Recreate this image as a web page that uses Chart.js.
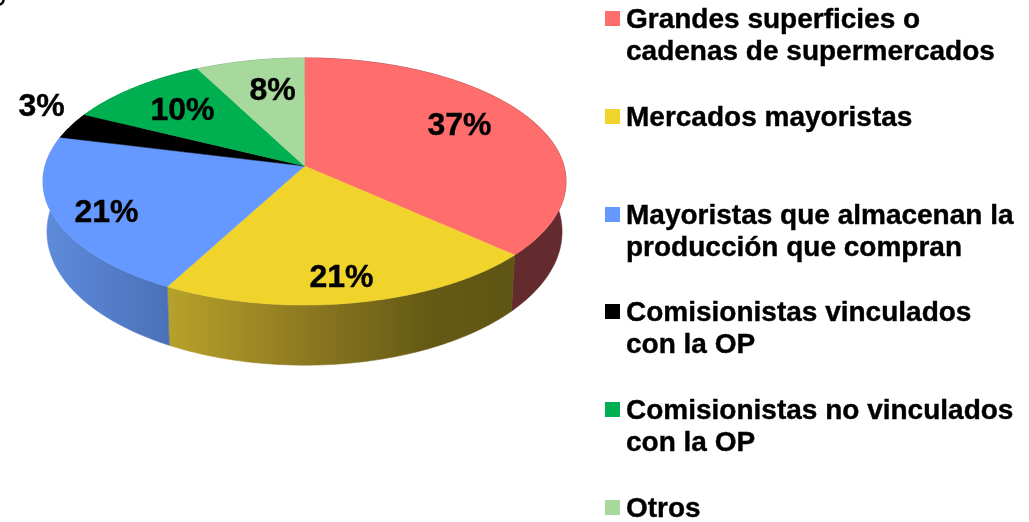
<!DOCTYPE html>
<html>
<head>
<meta charset="utf-8">
<style>html,body{margin:0;padding:0;background:#fff;overflow:hidden}#wrap{position:relative;width:1029px;height:522px}</style>
<script src="https://cdn.jsdelivr.net/npm/chart.js@4"></script>
</head>
<body>
<div id="wrap"><canvas id="c" width="1029" height="522"></canvas></div>
<script>
const categories = ['Grandes superficies o cadenas de supermercados','Mercados mayoristas','Mayoristas que almacenan la producción que compran','Comisionistas vinculados con la OP','Comisionistas no vinculados con la OP','Otros'];
const legendLines = [['Grandes superficies o','cadenas de supermercados'],['Mercados mayoristas'],['Mayoristas que almacenan la','producción que compran'],['Comisionistas vinculados','con la OP'],['Comisionistas no vinculados','con la OP'],['Otros']];
const values = [36.7,21.1,21.1,3.45,10.05,7.6];
const topColors = ['#ff6d6d','#f0d42c','#6699ff','#000000','#00b050','#a6d99b'];
const wallStops = [
  [[0,'#642b2e'],[1,'#642b2e']],
  [[0,'#b8a22c'],[0.45,'#87741f'],[0.75,'#655a14'],[1,'#5f5514']],
  [[0,'#5f8bdc'],[1,'#4a71b8']],
  [[0,'#000000'],[1,'#000000']],
  [[0,'#006c30'],[1,'#006c30']],
  [[0,'#6b8c63'],[1,'#6b8c63']]
];
const labelAnchors = [[155,-40],[37,112],[-198,47],[-263,-58.5],[-122,-54.5],[-32,-75]];

const persp = 0.1255, kx = 1.5627, ky = 0.7325;
function project(arc, a, r){
  const u = Math.cos(a)*r, v = Math.sin(a)*r, w = 1 - persp*v, R = arc.outerRadius;
  return [R*kx*u/w, R*ky*v/w];
}
const wallDepth = 49, wallSy = 1.08, wallSx = 0.985;
function lower(arc,p){ return [arc.x + wallSx*p[0], arc.y + wallDepth + wallSy*p[1]]; }
function upper(arc,p){ return [arc.x + p[0], arc.y + p[1]]; }
function rim(arc){
  const pts=[], n=Math.max(8,Math.ceil((arc.endAngle-arc.startAngle)*90));
  for(let i=0;i<=n;i++) pts.push(project(arc, arc.startAngle+(arc.endAngle-arc.startAngle)*i/n, 1));
  return pts;
}
const pie3d = {
  id:'pie3d',
  beforeDatasetsDraw(chart){
    const ctx = chart.ctx, arcs = chart.getDatasetMeta(0).data;
    // walls
    arcs.forEach((arc,i)=>{
      const pts = rim(arc), top = pts.map(p=>upper(arc,p)), bot = pts.map(p=>lower(arc,p));
      const xs = top.concat(bot).map(p=>p[0]);
      const g = ctx.createLinearGradient(Math.min(...xs),0,Math.max(...xs),0);
      wallStops[i].forEach(s=>g.addColorStop(s[0],s[1]));
      ctx.beginPath();
      top.forEach((p,j)=> j?ctx.lineTo(p[0],p[1]):ctx.moveTo(p[0],p[1]));
      bot.reverse().forEach(p=>ctx.lineTo(p[0],p[1]));
      ctx.closePath();
      ctx.fillStyle=g; ctx.strokeStyle=g; ctx.lineWidth=0.6; ctx.fill(); ctx.stroke();
    });
    // top faces
    arcs.forEach((arc,i)=>{
      const top = rim(arc).map(p=>upper(arc,p));
      ctx.beginPath(); ctx.moveTo(arc.x,arc.y);
      top.forEach(p=>ctx.lineTo(p[0],p[1]));
      ctx.closePath();
      ctx.fillStyle=topColors[i]; ctx.strokeStyle=topColors[i]; ctx.lineWidth=0.5; ctx.fill(); ctx.stroke();
    });
    // value labels
    ctx.font='bold 32px "Liberation Sans", Arial, sans-serif';
    ctx.textAlign='center'; ctx.textBaseline='middle'; ctx.fillStyle='#000'; ctx.strokeStyle='#000'; ctx.lineWidth=0.4;
    arcs.forEach((arc,i)=>{
      const t = Math.round(values[i])+'%', x = arc.x+labelAnchors[i][0], y = arc.y+labelAnchors[i][1];
      ctx.fillText(t,x,y); ctx.strokeText(t,x,y);
    });
    // legend
    ctx.textAlign='left'; ctx.textBaseline='alphabetic';
    ctx.font='bold 28px "Liberation Sans", Arial, sans-serif';
    legendLines.forEach((lines,i)=>{
      const y0 = 27 + i*97.8;
      ctx.fillStyle=topColors[i];
      ctx.fillRect(605, Math.round(y0-16), 15, 15);
      ctx.fillStyle='#000';
      lines.forEach((t,j)=>{ ctx.fillText(t,626,y0+1+j*32); ctx.strokeText(t,626,y0+1+j*32); });
    });
    // clipped glyph remnant at the very corner of the reference
    ctx.beginPath(); ctx.arc(-1,0,4.5,0,Math.PI/2); ctx.lineWidth=2.5; ctx.strokeStyle='#000'; ctx.stroke();
    return false;
  }
};
new Chart(document.getElementById('c'),{
  type:'pie',
  data:{labels:categories,datasets:[{data:values,backgroundColor:topColors,borderWidth:0}]},
  options:{
    responsive:false,animation:false,rotation:0,
    layout:{padding:{left:0,top:0,right:420,bottom:190}},
    plugins:{legend:{display:false},tooltip:{enabled:false},title:{display:false}}
  },
  plugins:[pie3d]
});
</script>
</body>
</html>
